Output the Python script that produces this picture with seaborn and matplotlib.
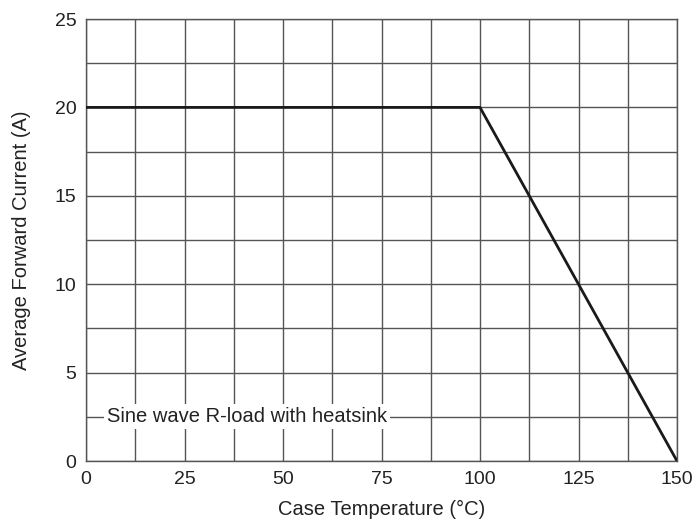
import matplotlib
matplotlib.use("Agg")
import matplotlib.pyplot as plt
import seaborn as sns
import numpy as np
import pandas as pd

temps = [0, 100, 150]
currents = [20, 20, 0]
xticks = [0, 25, 50, 75, 100, 125, 150]
yticks = [0, 5, 10, 15, 20, 25]

sns.set_theme(style="white")
plt.rcParams['font.family'] = ['Liberation Sans', 'DejaVu Sans']

fig = plt.figure(figsize=(6.96, 5.25), dpi=100)
ax = fig.add_axes([86 / 696, 1 - 461 / 525, (677 - 86) / 696, (461 - 19) / 525])

df = pd.DataFrame({"t": temps, "i": currents})
sns.lineplot(data=df, x="t", y="i", ax=ax, color="#1a1a1a", linewidth=2, zorder=3)

ax.set_xlim(0, 150)
ax.set_ylim(0, 25)
ax.set_xticks(xticks)
ax.set_yticks(yticks)
ax.set_xticks(np.arange(0, 150.1, 12.5), minor=True)
ax.set_yticks(np.arange(0, 25.1, 2.5), minor=True)
ax.grid(True, which="both", color="#555555", linewidth=1, zorder=1)
ax.set_axisbelow(True)
ax.tick_params(axis="both", which="both", length=0, labelsize=14, colors="#222222", pad=7)
for s in ax.spines.values():
    s.set_color("#555555")
    s.set_linewidth(1)

ax.set_xlabel("Case Temperature (°C)", fontsize=14.5, color="#222222", labelpad=9)
ax.set_ylabel("Average Forward Current (A)", fontsize=14.5, color="#222222", labelpad=17)

ax.text(40.8, 2.5, "Sine wave R-load with heatsink", ha="center", va="center",
        fontsize=14.5, color="#222222", zorder=4,
        bbox=dict(facecolor="white", edgecolor="none", pad=2))

fig.savefig("out.png", dpi=100)
